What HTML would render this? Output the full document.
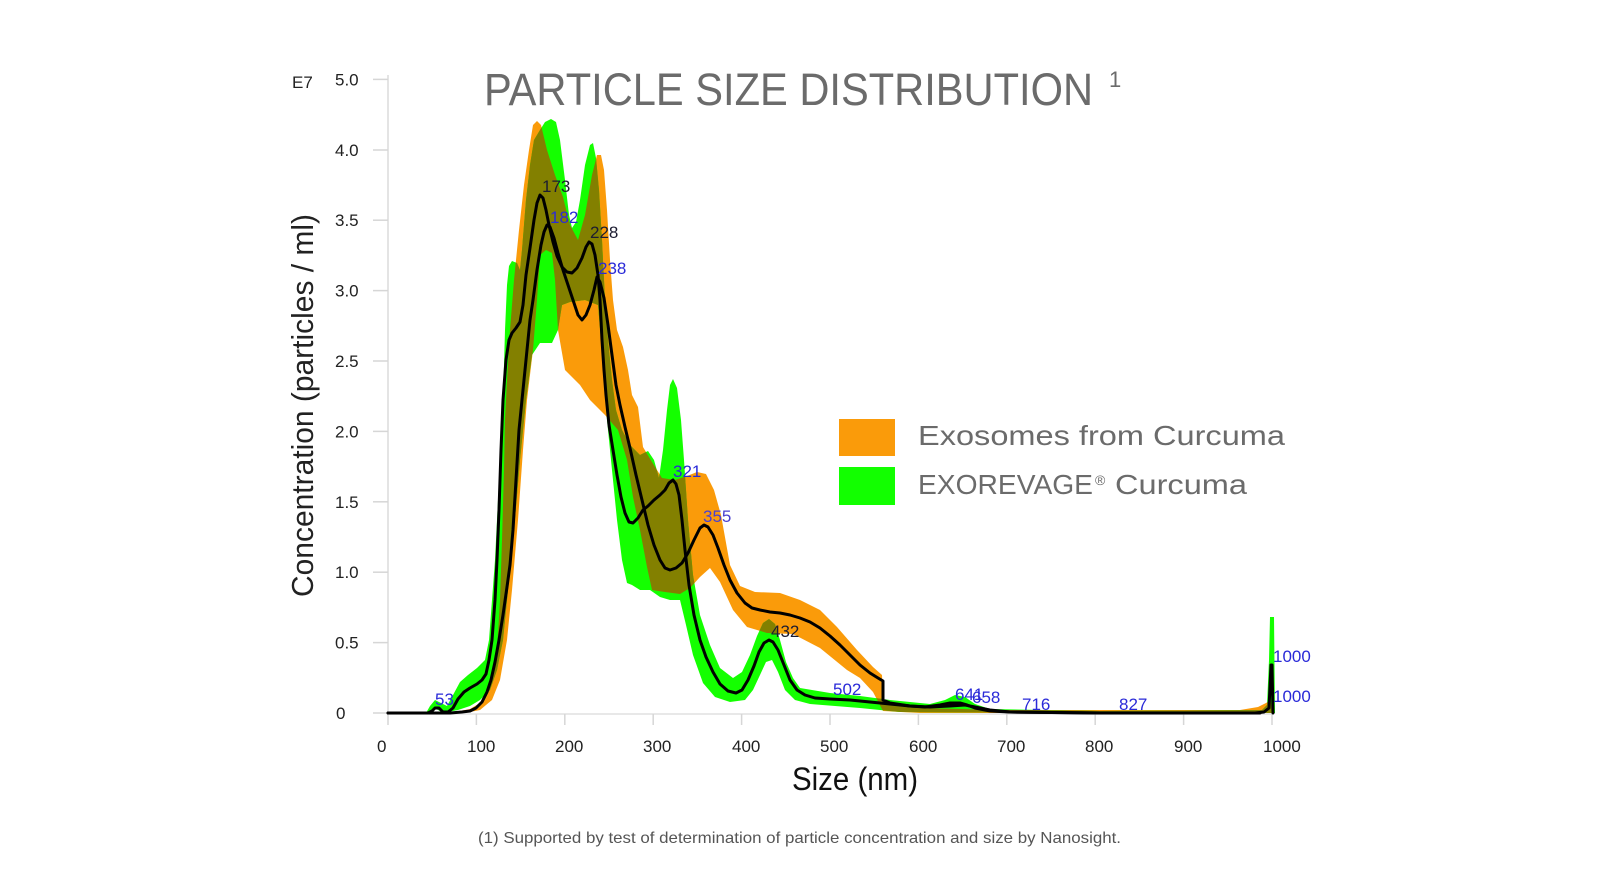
<!DOCTYPE html>
<html>
<head>
<meta charset="utf-8">
<style>
html,body{margin:0;padding:0;background:#fff;}
svg{display:block;}
text{font-family:"Liberation Sans",Arial,Helvetica,sans-serif;}
</style>
</head>
<body>
<svg width="1600" height="875" viewBox="0 0 1600 875" xmlns="http://www.w3.org/2000/svg">
<defs>
<clipPath id="co">
<path d="M388,713 L455,712 470,709 480,703 488,693 494,672 497,650 500,600 502,540 504,470 505,420 507,380 510,330 514,280 519,230 524,185 529,150 533,125 537,121 541,125 547,150 555,175 563,197 570,225 578,240 585,215 592,175 597,155 601,155 604,170 607,210 610,260 613,300 617,330 623,347 628,370 632,395 638,407 643,447 652,462 662,478 675,480 687,476 697,472 706,474 714,490 721,515 730,565 740,586 755,592 780,593 800,600 820,610 837,627 857,650 873,667 882,675 883,700 890,705 920,708 1000,710 1240,710 1258,707 1266,703 1271,700 1272,713 1240,713 1000,713 920,713 883,711 873,692 860,678 847,670 820,648 793,634 767,633 747,627 733,610 720,582 710,568 700,577 690,588 680,594 665,592 652,590 647,567 640,530 633,497 627,460 618,430 605,415 590,400 580,385 565,370 558,330 555,280 552,253 546,250 540,255 537,300 533,350 527,400 523,450 518,520 512,590 507,640 500,680 492,700 480,710 465,713 Z"/>
</clipPath>
</defs>

<!-- axes -->
<line x1="388" y1="75" x2="388" y2="714" stroke="#dcdcdc" stroke-width="1.5"/>
<line x1="388" y1="714" x2="1272" y2="714" stroke="#e0e0e0" stroke-width="1.5"/>
<g stroke="#d6d6d6" stroke-width="1.5">
<line x1="373" y1="79.4" x2="388" y2="79.4"/>
<line x1="373" y1="150" x2="388" y2="150"/>
<line x1="373" y1="220.2" x2="388" y2="220.2"/>
<line x1="373" y1="290.6" x2="388" y2="290.6"/>
<line x1="373" y1="361" x2="388" y2="361"/>
<line x1="373" y1="431.4" x2="388" y2="431.4"/>
<line x1="373" y1="501.8" x2="388" y2="501.8"/>
<line x1="373" y1="572.2" x2="388" y2="572.2"/>
<line x1="373" y1="642.6" x2="388" y2="642.6"/>
<line x1="373" y1="713" x2="388" y2="713"/>
<line x1="388" y1="714" x2="388" y2="725"/>
<line x1="476.4" y1="714" x2="476.4" y2="725"/>
<line x1="564.8" y1="714" x2="564.8" y2="725"/>
<line x1="653.2" y1="714" x2="653.2" y2="725"/>
<line x1="741.6" y1="714" x2="741.6" y2="725"/>
<line x1="830" y1="714" x2="830" y2="725"/>
<line x1="918.4" y1="714" x2="918.4" y2="725"/>
<line x1="1006.8" y1="714" x2="1006.8" y2="725"/>
<line x1="1095.2" y1="714" x2="1095.2" y2="725"/>
<line x1="1183.6" y1="714" x2="1183.6" y2="725"/>
<line x1="1272" y1="714" x2="1272" y2="725"/>
</g>

<!-- y tick labels -->
<g font-size="17" fill="#222">
<text x="292" y="88">E7</text>
<text x="335" y="85.4">5.0</text>
<text x="335" y="156">4.0</text>
<text x="335" y="226.2">3.5</text>
<text x="335" y="296.6">3.0</text>
<text x="335" y="367">2.5</text>
<text x="335" y="437.4">2.0</text>
<text x="335" y="507.8">1.5</text>
<text x="335" y="578.2">1.0</text>
<text x="335" y="648.6">0.5</text>
<text x="336" y="719">0</text>
</g>
<!-- x tick labels -->
<g font-size="17" fill="#222">
<text x="377" y="752">0</text>
<text x="467" y="752">100</text>
<text x="555" y="752">200</text>
<text x="643" y="752">300</text>
<text x="732" y="752">400</text>
<text x="820" y="752">500</text>
<text x="909" y="752">600</text>
<text x="997" y="752">700</text>
<text x="1085" y="752">800</text>
<text x="1174" y="752">900</text>
<text x="1263" y="752">1000</text>
</g>

<!-- bands -->
<path fill="#FA9B0A" d="M388,713 L455,712 470,709 480,703 488,693 494,672 497,650 500,600 502,540 504,470 505,420 507,380 510,330 514,280 519,230 524,185 529,150 533,125 537,121 541,125 547,150 555,175 563,197 570,225 578,240 585,215 592,175 597,155 601,155 604,170 607,210 610,260 613,300 617,330 623,347 628,370 632,395 638,407 643,447 652,462 662,478 675,480 687,476 697,472 706,474 714,490 721,515 730,565 740,586 755,592 780,593 800,600 820,610 837,627 857,650 873,667 882,675 883,700 890,705 920,708 1000,710 1240,710 1258,707 1266,703 1271,700 1272,713 1240,713 1000,713 920,713 883,711 873,692 860,678 847,670 820,648 793,634 767,633 747,627 733,610 720,582 710,568 700,577 690,588 680,594 665,592 652,590 647,567 640,530 633,497 627,460 618,430 605,415 590,400 580,385 565,370 558,330 555,280 552,253 546,250 540,255 537,300 533,350 527,400 523,450 518,520 512,590 507,640 500,680 492,700 480,710 465,713 Z"/>
<path fill="#14FF00" d="M388,713 L426,713 430,706 435,700 441,703 447,706 453,695 460,682 468,675 477,668 485,660 489,640 492,600 495,560 499,480 503,400 505,330 507,285 509,266 512,261 517,263 520,270 522,250 526,200 530,165 534,140 540,130 545,122 551,119 556,122 560,140 565,180 569,215 572,228 576,222 580,200 585,165 590,145 593,143 596,158 599,190 602,240 605,300 608,340 612,380 616,410 622,430 630,445 640,455 648,451 654,460 659,478 663,450 667,410 670,385 673,379 677,388 681,420 684,460 688,520 693,575 700,615 710,645 720,668 733,678 742,672 750,655 757,636 763,623 769,619 775,624 780,640 786,662 793,678 800,688 830,693 860,696 890,700 930,704 945,700 955,695 965,697 975,704 990,709 1100,711 1262,710 1267,705 1269,660 1270,617 1274,617 1275,713 1100,713 900,712 860,708 810,704 795,700 785,690 778,672 772,660 766,662 760,675 753,690 745,700 730,702 715,697 703,683 693,655 686,625 680,600 670,600 660,597 650,590 640,590 632,585 627,583 622,560 617,520 612,470 607,420 604,380 601,340 598,305 585,300 570,302 562,305 558,330 552,343 540,343 532,355 526,400 520,460 514,530 508,590 503,640 497,670 490,690 480,700 470,706 458,710 448,712 440,711 434,708 430,713 Z"/>
<g clip-path="url(#co)">
<path fill="#838000" d="M388,713 L426,713 430,706 435,700 441,703 447,706 453,695 460,682 468,675 477,668 485,660 489,640 492,600 495,560 499,480 503,400 505,330 507,285 509,266 512,261 517,263 520,270 522,250 526,200 530,165 534,140 540,130 545,122 551,119 556,122 560,140 565,180 569,215 572,228 576,222 580,200 585,165 590,145 593,143 596,158 599,190 602,240 605,300 608,340 612,380 616,410 622,430 630,445 640,455 648,451 654,460 659,478 663,450 667,410 670,385 673,379 677,388 681,420 684,460 688,520 693,575 700,615 710,645 720,668 733,678 742,672 750,655 757,636 763,623 769,619 775,624 780,640 786,662 793,678 800,688 830,693 860,696 890,700 930,704 945,700 955,695 965,697 975,704 990,709 1100,711 1262,710 1267,705 1269,660 1270,617 1274,617 1275,713 1100,713 900,712 860,708 810,704 795,700 785,690 778,672 772,660 766,662 760,675 753,690 745,700 730,702 715,697 703,683 693,655 686,625 680,600 670,600 660,597 650,590 640,590 632,585 627,583 622,560 617,520 612,470 607,420 604,380 601,340 598,305 585,300 570,302 562,305 558,330 552,343 540,343 532,355 526,400 520,460 514,530 508,590 503,640 497,670 490,690 480,700 470,706 458,710 448,712 440,711 434,708 430,713 Z"/>
</g>

<!-- mean curves -->
<g fill="none" stroke="#000" stroke-width="3" stroke-linejoin="round" stroke-linecap="round">
<polyline points="388,713 428,713 432,711 435,708 439,708 443,712 448,712 453,708 458,699 464,692 470,688 477,684 482,680 486,674 489,660 492,640 495,600 497,560 499,510 501,450 503,400 506,360 509,340 512,333 516,328 520,322 523,305 526,275 530,248 534,220 537,203 540,195 543,198 546,210 549,225 553,242 557,256 562,267 567,272 572,273 577,268 582,258 586,247 589,242 592,244 595,255 598,275 600,300 602,340 604,370 606,395 609,425 613,450 617,475 621,497 625,513 629,522 633,523 638,518 643,510 648,506 654,500 660,495 665,490 669,483 673,480 676,484 679,495 682,520 685,550 689,585 694,615 700,640 706,657 713,672 720,684 728,691 736,693 742,690 748,680 754,666 759,652 764,643 769,640 773,642 778,650 784,665 790,680 797,690 805,695 815,698 830,699 850,700 870,702 890,704 910,706 925,707 940,705 950,703 960,703 967,705 975,708 990,711 1010,712 1100,713 1255,713 1264,712 1269,708 1271,665 1272,665 1273,713"/>
<polyline points="388,713 450,713 462,712 470,711 476,708 482,702 487,692 491,680 495,662 499,640 503,615 507,587 510,565 513,530 516,480 519,430 522,400 526,360 530,320 533,300 537,270 541,245 544,232 547,225 550,227 554,238 558,253 563,270 568,285 573,300 578,315 582,320 586,315 590,305 594,290 597,277 600,282 604,298 608,325 612,355 616,385 620,405 625,427 630,448 636,475 642,500 648,525 654,545 660,560 665,568 670,570 676,568 682,563 688,553 694,540 700,528 704,525 708,527 713,535 718,548 724,565 730,580 737,593 745,603 752,608 760,610 770,612 780,613 790,615 800,618 810,622 820,628 830,636 840,645 850,655 860,665 870,673 878,678 883,681 883,700 890,703 910,706 930,707 950,706 965,705 975,707 990,710 1010,712 1100,713 1260,713"/>
</g>

<!-- peak labels -->
<g font-size="17">
<text x="435" y="705" fill="#2a2ad8">53</text>
<text x="542" y="192" fill="#1c1c30">173</text>
<text x="550" y="223" fill="#2a2ad8">182</text>
<text x="590" y="238" fill="#1c1c30">228</text>
<text x="598" y="274" fill="#2a2ad8">238</text>
<text x="673" y="477" fill="#2a2ad8">321</text>
<text x="703" y="522" fill="#4a40d0">355</text>
<text x="771" y="637" fill="#1c1c30">432</text>
<text x="833" y="695" fill="#2a2ad8">502</text>
<text x="955" y="700" fill="#2a2ad8">641</text>
<text x="972" y="703" fill="#2a2ad8">658</text>
<text x="1022" y="710" fill="#2a2ad8">716</text>
<text x="1119" y="710" fill="#2a2ad8">827</text>
<text x="1273" y="662" fill="#2a2ad8">1000</text>
<text x="1273" y="702" fill="#2a2ad8">1000</text>
</g>

<!-- axis titles -->
<text x="792" y="790" font-size="32" fill="#111" textLength="126" lengthAdjust="spacingAndGlyphs">Size (nm)</text>
<text transform="translate(313,405.5) rotate(-90)" text-anchor="middle" font-size="31" fill="#222" textLength="383" lengthAdjust="spacingAndGlyphs">Concentration (particles / ml)</text>

<!-- title -->
<text x="484" y="105" font-size="45" fill="#6b6b6b" textLength="609" lengthAdjust="spacingAndGlyphs">PARTICLE SIZE DISTRIBUTION</text>
<text x="1109" y="87" font-size="22" fill="#6b6b6b">1</text>

<!-- legend -->
<rect x="839" y="419" width="56" height="37" fill="#FA9B0A"/>
<rect x="839" y="467" width="56" height="38" fill="#12FF00"/>
<text x="918" y="445" font-size="28" fill="#6b6b6b" textLength="367" lengthAdjust="spacingAndGlyphs">Exosomes from Curcuma</text>
<text x="918" y="494" font-size="28" fill="#6b6b6b" textLength="175" lengthAdjust="spacingAndGlyphs">EXOREVAGE</text>
<text x="1095" y="485" font-size="14" fill="#6b6b6b">®</text>
<text x="1115" y="494" font-size="28" fill="#6b6b6b" textLength="132" lengthAdjust="spacingAndGlyphs">Curcuma</text>

<!-- footnote -->
<text x="478" y="843" font-size="16" fill="#555" textLength="643" lengthAdjust="spacingAndGlyphs">(1) Supported by test of determination of particle concentration and size by Nanosight.</text>
</svg>
</body>
</html>
